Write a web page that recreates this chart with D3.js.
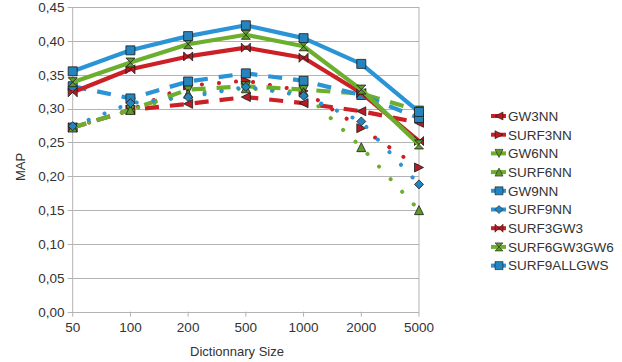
<!DOCTYPE html>
<html>
<head>
<meta charset="utf-8">
<script src="https://cdn.jsdelivr.net/npm/d3@7"></script>
<style>
  body { margin: 0; background: #fff; }
  svg { display: block; }
  text { font-family: "Liberation Sans", Arial, sans-serif; fill: #333; }
  .grid { stroke: #b3b3b3; stroke-width: 1; }
</style>
</head>
<body>
<div id="chart"></div>
<script>
var categories = ['50', '100', '200', '500', '1000', '2000', '5000'];
var yTicks = [0, 0.05, 0.10, 0.15, 0.20, 0.25, 0.30, 0.35, 0.40, 0.45];

var seriesNames = ['GW3NN', 'SURF3NN', 'GW6NN', 'SURF6NN', 'GW9NN', 'SURF9NN', 'SURF3GW3', 'SURF6GW3GW6', 'SURF9ALLGWS'];
var gw3nn = [0.272, 0.298, 0.307, 0.317, 0.308, 0.296, 0.279];
var surf3nn = [0.272, 0.298, 0.334, 0.341, 0.326, 0.271, 0.213];
var gw6nn = [0.272, 0.298, 0.328, 0.333, 0.328, 0.322, 0.297];
var surf6nn = [0.272, 0.298, 0.322, 0.330, 0.324, 0.243, 0.150];
var gw9nn = [0.333, 0.315, 0.340, 0.352, 0.341, 0.320, 0.286];
var surf9nn = [0.274, 0.308, 0.317, 0.332, 0.319, 0.281, 0.188];
var surf3gw3 = [0.324, 0.358, 0.377, 0.390, 0.375, 0.323, 0.252];
var surf6gw3gw6 = [0.339, 0.368, 0.395, 0.409, 0.392, 0.328, 0.247];
var surf9allgws = [0.355, 0.386, 0.407, 0.423, 0.404, 0.366, 0.295];

var W = 622, H = 362;
var plotLeft = 72.7, plotRight = 419, plotTop = 7, plotBottom = 311.7;

// colour / line style / marker per series, in legend order
var RED = '#cc1f26', GREEN = '#6cae2e', BLUE = '#2a94d6';
var styles = [
    { c: RED, dash: 'dash', m: 'left' },
    { c: RED, dash: 'dot', m: 'right' },
    { c: GREEN, dash: 'dash', m: 'down' },
    { c: GREEN, dash: 'dot', m: 'up' },
    { c: BLUE, dash: 'dash', m: 'square' },
    { c: BLUE, dash: 'dot', m: 'diamond' },
    { c: RED, dash: 'solid', m: 'bowtie' },
    { c: GREEN, dash: 'solid', m: 'hourglass' },
    { c: BLUE, dash: 'solid', m: 'square' }
];
var values = [gw3nn, surf3nn, gw6nn, surf6nn, gw9nn, surf9nn, surf3gw3, surf6gw3gw6, surf9allgws];

function markerPath(kind, r) {
    switch (kind) {
        case 'left': return 'M' + (-r) + ',0L' + r + ',' + (-r) + 'L' + r + ',' + r + 'Z';
        case 'right': return 'M' + r + ',0L' + (-r) + ',' + (-r) + 'L' + (-r) + ',' + r + 'Z';
        case 'down': return 'M0,' + r + 'L' + (-r) + ',' + (-r) + 'L' + r + ',' + (-r) + 'Z';
        case 'up': return 'M0,' + (-r) + 'L' + (-r) + ',' + r + 'L' + r + ',' + r + 'Z';
        case 'diamond': return 'M0,' + (-r) + 'L' + r + ',0L0,' + r + 'L' + (-r) + ',0Z';
        case 'bowtie': return 'M' + (-r) + ',' + (-r) + 'L' + r + ',' + r + 'L' + r + ',' + (-r) + 'L' + (-r) + ',' + r + 'Z';
        case 'hourglass': return 'M' + (-r) + ',' + (-r) + 'L' + r + ',' + (-r) + 'L' + (-r) + ',' + r + 'L' + r + ',' + r + 'Z';
        default: return 'M' + (-r) + ',' + (-r) + 'H' + r + 'V' + r + 'H' + (-r) + 'Z';
    }
}

function markerFill(c) {
    return d3.color(c).darker(0.35).formatHex();
}

function dashArray(d) {
    if (d == 'dash') return '14,11';
    if (d == 'dot') return '0.1,17';
    return null;
}

var svg = d3.select('#chart').append('svg')
    .attr('width', W).attr('height', H);

var x = d3.scalePoint().domain(categories).range([plotLeft, plotRight]);
var y = d3.scaleLinear().domain([0, 0.45]).range([plotBottom, plotTop]);

// grid + frame
svg.append('g').selectAll('line').data(yTicks).enter().append('line')
    .attr('class', 'grid')
    .attr('x1', plotLeft - 5).attr('x2', plotRight)
    .attr('y1', function (d) { return Math.round(y(d)) + 0.5; })
    .attr('y2', function (d) { return Math.round(y(d)) + 0.5; });
svg.append('line').attr('class', 'grid')
    .attr('x1', plotLeft).attr('x2', plotLeft).attr('y1', plotTop).attr('y2', plotBottom + 5);
svg.append('line').attr('class', 'grid')
    .attr('x1', plotRight).attr('x2', plotRight).attr('y1', plotTop).attr('y2', plotBottom + 5);
svg.append('g').selectAll('line').data(categories.slice(1, -1)).enter().append('line')
    .attr('class', 'grid')
    .attr('x1', function (d) { return x(d); }).attr('x2', function (d) { return x(d); })
    .attr('y1', plotBottom).attr('y2', plotBottom + 5);

// tick labels
svg.append('g').selectAll('text').data(yTicks).enter().append('text')
    .attr('x', 64.5).attr('y', function (d) { return y(d); })
    .attr('dy', '0.36em')
    .attr('text-anchor', 'end')
    .style('font-size', '13.5px')
    .text(function (d) { return d3.format('.2f')(d).replace('.', ','); });
svg.append('g').selectAll('text').data(categories).enter().append('text')
    .attr('x', function (d) { return x(d); }).attr('y', 332)
    .attr('text-anchor', 'middle')
    .style('font-size', '13.5px')
    .text(function (d) { return d; });

svg.append('text')
    .attr('x', 237).attr('y', 356)
    .attr('text-anchor', 'middle')
    .style('font-size', '13px')
    .text('Dictionnary Size');
svg.append('text')
    .attr('transform', 'translate(25,167) rotate(-90)')
    .attr('text-anchor', 'middle')
    .style('font-size', '13px')
    .text('MAP');

// series
var line = d3.line()
    .x(function (d, i) { return x(categories[i]); })
    .y(function (d) { return y(d); });

values.forEach(function (vals, k) {
    var s = styles[k];
    var g = svg.append('g').attr('class', 'series');
    g.append('path')
        .attr('d', line(vals))
        .attr('fill', 'none')
        .attr('stroke', s.c)
        .attr('stroke-width', s.dash == 'dot' ? 4 : 4.2)
        .attr('stroke-linecap', s.dash == 'dot' ? 'round' : 'butt')
        .attr('stroke-linejoin', 'round')
        .attr('stroke-dasharray', dashArray(s.dash));
    g.selectAll('path.mark').data(vals).enter().append('path')
        .attr('class', 'mark')
        .attr('transform', function (d, i) { return 'translate(' + x(categories[i]) + ',' + y(d) + ')'; })
        .attr('d', markerPath(s.m, 4.5))
        .attr('fill', markerFill(s.c))
        .attr('stroke', '#1a1a1a')
        .attr('stroke-width', 0.8);
});

// legend
var legend = svg.append('g').attr('transform', 'translate(491,116)');
seriesNames.forEach(function (name, k) {
    var s = styles[k];
    var row = legend.append('g').attr('transform', 'translate(0,' + (k * 18.7) + ')');
    row.append('line')
        .attr('x1', 0).attr('x2', 15).attr('y1', 0).attr('y2', 0)
        .attr('stroke', s.c).attr('stroke-width', 4);
    row.append('path')
        .attr('transform', 'translate(8,0)')
        .attr('d', markerPath(s.m, 4))
        .attr('fill', markerFill(s.c))
        .attr('stroke', '#1a1a1a')
        .attr('stroke-width', 0.6);
    row.append('text')
        .attr('x', 17).attr('y', 0).attr('dy', '0.36em')
        .style('font-size', '13.5px')
        .text(name);
});
</script>
</body>
</html>
